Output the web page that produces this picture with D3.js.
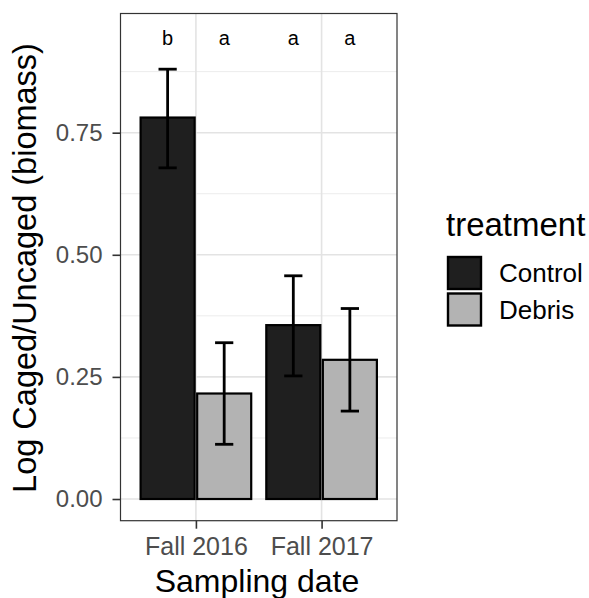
<!DOCTYPE html>
<html>
<head>
<meta charset="utf-8">
<script src="https://cdn.jsdelivr.net/npm/d3@7"></script>
<style>
  html, body { margin: 0; padding: 0; background: #fff; }
  svg { display: block; font-family: "Liberation Sans", Arial, Helvetica, sans-serif; }
</style>
</head>
<body>
<svg id="chart" width="589" height="598"></svg>
<script>
// ---- data ----
const categories = ["Fall 2016", "Fall 2017"];
const treatments = ["Control", "Debris"];
const controlMean = [0.781, 0.356];
const controlLow  = [0.678, 0.252];
const controlHigh = [0.880, 0.457];
const debrisMean  = [0.216, 0.285];
const debrisLow   = [0.112, 0.180];
const debrisHigh  = [0.320, 0.390];
const controlLetters = ["b", "a"];
const debrisLetters  = ["a", "a"];
const yTicks = [0, 0.25, 0.5, 0.75];
const yMinor = [0.125, 0.375, 0.625, 0.875];
const letterLevel = 0.944;

const fills = { Control: "#1f1f1f", Debris: "#b3b3b3" };

const rows = [];
categories.forEach((c, i) => {
  rows.push({ cat: c, ci: i, trt: "Control", ti: 0, mean: controlMean[i], lo: controlLow[i], hi: controlHigh[i], letter: controlLetters[i] });
  rows.push({ cat: c, ci: i, trt: "Debris", ti: 1, mean: debrisMean[i], lo: debrisLow[i], hi: debrisHigh[i], letter: debrisLetters[i] });
});

// ---- layout ----
const panel = { left: 120.5, right: 397, top: 13.5, bottom: 520.7 };
const svg = d3.select("#chart");

const x = d3.scaleLinear().domain([0.4, 2.6]).range([panel.left, panel.right]);
const y = d3.scaleLinear().domain([-0.0444, 0.994]).range([panel.bottom, panel.top]);
const dodge = 0.9, barW = 0.43;
const xCenter = d => x(d.ci + 1 + (d.ti - 0.5) * dodge / 2);

// panel background
svg.append("rect")
  .attr("x", panel.left).attr("y", panel.top)
  .attr("width", panel.right - panel.left).attr("height", panel.bottom - panel.top)
  .attr("fill", "#fff");

// minor gridlines
svg.append("g").selectAll("line").data(yMinor).join("line")
  .attr("x1", panel.left).attr("x2", panel.right)
  .attr("y1", d => y(d)).attr("y2", d => y(d))
  .attr("stroke", "#ececec").attr("stroke-width", 1);
// major gridlines
svg.append("g").selectAll("line").data(yTicks).join("line")
  .attr("x1", panel.left).attr("x2", panel.right)
  .attr("y1", d => y(d)).attr("y2", d => y(d))
  .attr("stroke", "#e3e3e3").attr("stroke-width", 1.6);
svg.append("g").selectAll("line").data(categories).join("line")
  .attr("x1", (d, i) => x(i + 1)).attr("x2", (d, i) => x(i + 1))
  .attr("y1", panel.top).attr("y2", panel.bottom)
  .attr("stroke", "#e3e3e3").attr("stroke-width", 1.6);

// bars
svg.append("g").selectAll("rect").data(rows).join("rect")
  .attr("x", d => xCenter(d) - (x(barW) - x(0)) / 2)
  .attr("width", x(barW) - x(0))
  .attr("y", d => y(d.mean))
  .attr("height", d => y(0) - y(d.mean))
  .attr("fill", d => fills[d.trt])
  .attr("stroke", "#000").attr("stroke-width", 2.2);

// error bars
const capHalf = (x(0.145) - x(0)) / 2;
const eb = svg.append("g").attr("stroke", "#000").attr("stroke-width", 2.8);
eb.selectAll("line.v").data(rows).join("line").attr("class", "v")
  .attr("x1", d => xCenter(d)).attr("x2", d => xCenter(d))
  .attr("y1", d => y(d.lo)).attr("y2", d => y(d.hi));
eb.selectAll("line.t").data(rows).join("line").attr("class", "t")
  .attr("x1", d => xCenter(d) - capHalf).attr("x2", d => xCenter(d) + capHalf)
  .attr("y1", d => y(d.hi)).attr("y2", d => y(d.hi));
eb.selectAll("line.b").data(rows).join("line").attr("class", "b")
  .attr("x1", d => xCenter(d) - capHalf).attr("x2", d => xCenter(d) + capHalf)
  .attr("y1", d => y(d.lo)).attr("y2", d => y(d.lo));

// letters
svg.append("g").selectAll("text").data(rows).join("text")
  .attr("x", d => xCenter(d)).attr("y", y(letterLevel))
  .attr("text-anchor", "middle").attr("dominant-baseline", "central")
  .attr("font-size", 20).attr("fill", "#000")
  .text(d => d.letter);

// panel border
svg.append("rect")
  .attr("x", panel.left).attr("y", panel.top)
  .attr("width", panel.right - panel.left).attr("height", panel.bottom - panel.top)
  .attr("fill", "none").attr("stroke", "#333").attr("stroke-width", 1.2);

// y axis
const yAxis = d3.axisLeft(y).tickValues(yTicks).tickFormat(d3.format(".2f")).tickSize(8).tickPadding(10);
const ya = svg.append("g").attr("transform", `translate(${panel.left},0)`).call(yAxis);
ya.select(".domain").remove();
ya.selectAll(".tick line").attr("stroke", "#333").attr("stroke-width", 1.6);
ya.selectAll(".tick text").attr("fill", "#4d4d4d").attr("font-size", 24)
  .attr("font-family", "Liberation Sans, Arial, sans-serif");

// x axis
const xAxis = d3.axisBottom(x).tickValues([1, 2]).tickFormat((d, i) => categories[i]).tickSize(8).tickPadding(9);
const xa = svg.append("g").attr("transform", `translate(0,${panel.bottom})`).call(xAxis);
xa.select(".domain").remove();
xa.selectAll(".tick line").attr("stroke", "#333").attr("stroke-width", 1.6);
xa.selectAll(".tick text").attr("fill", "#4d4d4d").attr("font-size", 25)
  .attr("font-family", "Liberation Sans, Arial, sans-serif");

// axis titles
svg.append("text")
  .attr("x", 257).attr("y", 592)
  .attr("text-anchor", "middle").attr("font-size", 32).attr("fill", "#000")
  .text("Sampling date");
svg.append("text")
  .attr("transform", `translate(36,268) rotate(-90)`)
  .attr("text-anchor", "middle").attr("font-size", 32.5).attr("fill", "#000")
  .text("Log Caged/Uncaged (biomass)");

// legend
const lg = svg.append("g");
lg.append("text").attr("x", 446).attr("y", 236).attr("font-size", 33).attr("fill", "#000").text("treatment");
const keys = lg.selectAll("g.key").data(treatments).join("g").attr("class", "key")
  .attr("transform", (d, i) => `translate(448,${257 + i * 36.5})`);
keys.append("rect").attr("width", 33).attr("height", 32)
  .attr("fill", d => fills[d]).attr("stroke", "#000").attr("stroke-width", 2.4);
keys.append("text").attr("x", 51).attr("y", 16).attr("dominant-baseline", "central")
  .attr("font-size", 26).attr("fill", "#000").text(d => d);
</script>
</body>
</html>
